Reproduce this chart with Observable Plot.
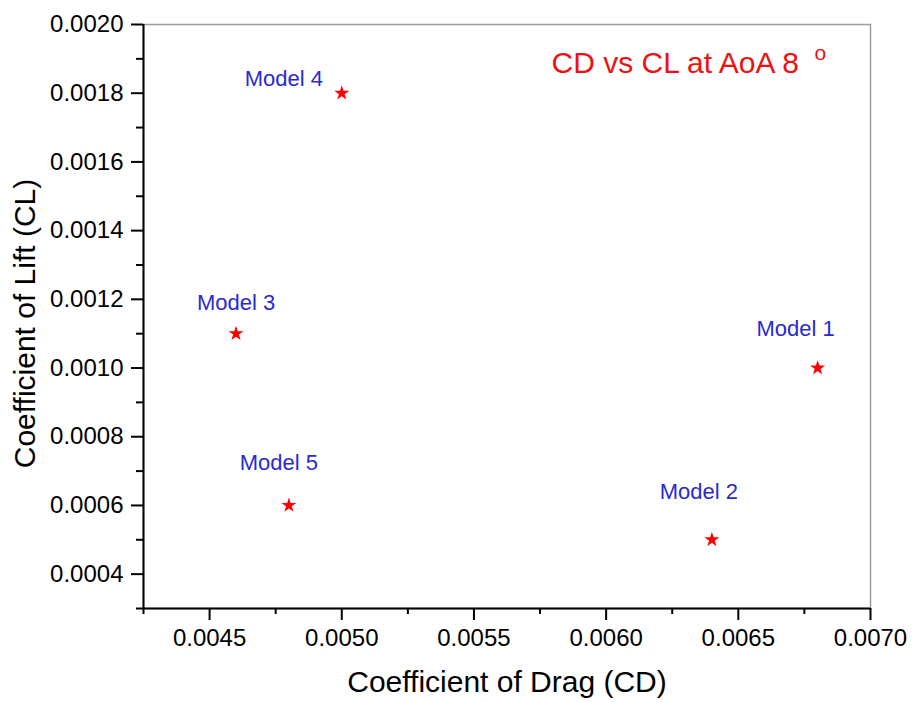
<!DOCTYPE html>
<html>
<head>
<meta charset="utf-8">
<script src="https://cdn.jsdelivr.net/npm/d3@7"></script>
<script src="https://cdn.jsdelivr.net/npm/@observablehq/plot@0.6"></script>
<style>
  html, body { margin: 0; padding: 0; background: #fff; }
  #chart svg { display: block; }
</style>
</head>
<body>
<div id="chart"></div>
<script>
// ---- data ----
const models = ["Model 1", "Model 2", "Model 3", "Model 4", "Model 5"];
const cdValues = [0.0068, 0.0064, 0.0046, 0.0050, 0.0048];
const clValues = [0.0010, 0.0005, 0.0011, 0.0018, 0.0006];
const xTicks = [0.0045, 0.0050, 0.0055, 0.0060, 0.0065, 0.0070];
const xMinorTicks = [0.00425, 0.00475, 0.00525, 0.00575, 0.00625, 0.00675];
const yTicks = [0.0004, 0.0006, 0.0008, 0.0010, 0.0012, 0.0014, 0.0016, 0.0018, 0.0020];
const yMinorTicks = [0.0003, 0.0005, 0.0007, 0.0009, 0.0011, 0.0013, 0.0015, 0.0017, 0.0019];
const titleText = "CD vs CL at AoA 8";
const titleSup = "o";
const xTitle = "Coefficient of Drag (CD)";
const yTitle = "Coefficient of Lift (CL)";

const points = models.map((m, i) => ({model: m, cd: cdValues[i], cl: clValues[i]}));

// label placement (pixel offsets relative to each point)
const labelOffset = {
  "Model 1": [-22, -39],
  "Model 2": [-13, -48],
  "Model 3": [0, -31],
  "Model 4": [-58, -14],
  "Model 5": [-10, -42]
};

const fmt = d3.format(".4f");
const xDomain = [0.00425, 0.0070];
const yDomain = [0.0003, 0.0020];

const labelMarks = models.map(m => Plot.text(points.filter(d => d.model === m), {
  x: "cd", y: "cl", text: "model",
  dx: labelOffset[m][0], dy: labelOffset[m][1],
  fill: "#2a2ad0", fontSize: 22
}));

const chart = Plot.plot({
  width: 912,
  height: 702,
  marginLeft: 143,
  marginRight: 42,
  marginTop: 24,
  marginBottom: 94,
  style: {fontFamily: "'Liberation Sans', Arial, sans-serif", background: "#fff", color: "#000", overflow: "visible"},
  x: {domain: xDomain},
  y: {domain: yDomain},
  marks: [
    Plot.frame({stroke: "#9a9a9a", strokeWidth: 1.5}),
    Plot.axisX(xMinorTicks, {tickSize: 6, strokeWidth: 2, text: null, label: null}),
    Plot.axisX(xTicks, {tickSize: 12, tickPadding: 8, strokeWidth: 2, tickFormat: fmt, fontSize: 24, label: null}),
    Plot.axisY(yMinorTicks, {tickSize: 7, strokeWidth: 2, text: null, label: null}),
    Plot.axisY(yTicks, {tickSize: 12, tickPadding: 8, strokeWidth: 2, tickFormat: fmt, fontSize: 24, label: null}),
    Plot.ruleX([xDomain[0]], {stroke: "#000", strokeWidth: 2}),
    Plot.ruleY([yDomain[0]], {stroke: "#000", strokeWidth: 2}),
    Plot.dot(points, {x: "cd", y: "cl", symbol: "star", r: 4.7, fill: "#ff0000", stroke: "none"}),
    ...labelMarks,
    Plot.text([titleText], {frameAnchor: "top-left", text: d => d, dx: 408, dy: 38.5, textAnchor: "start", lineAnchor: "middle", fill: "#ee1111", fontSize: 30}),
    Plot.text([titleSup], {frameAnchor: "top-left", text: d => d, dx: 671, dy: 29, textAnchor: "start", lineAnchor: "middle", fill: "#ee1111", fontSize: 21}),
    Plot.text([xTitle], {frameAnchor: "bottom", text: d => d, dy: 74, lineAnchor: "middle", fill: "#000", fontSize: 30}),
    Plot.text([yTitle], {frameAnchor: "left", text: d => d, dx: -118, dy: 7, rotate: -90, textAnchor: "middle", lineAnchor: "middle", fill: "#000", fontSize: 30})
  ]
});
document.getElementById("chart").appendChild(chart);
</script>
</body>
</html>
